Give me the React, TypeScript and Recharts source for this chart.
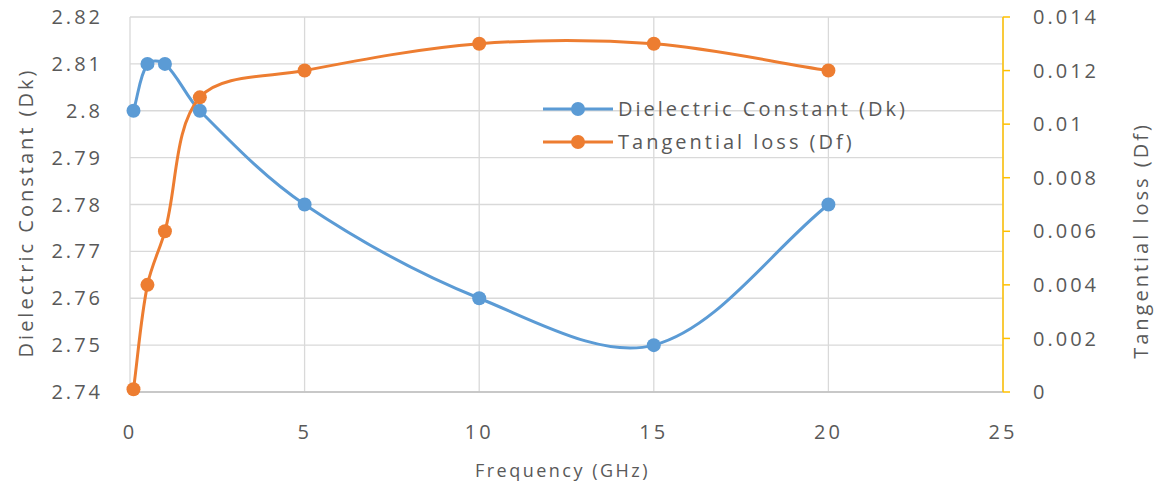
import { LineChart, Line, XAxis, YAxis, CartesianGrid, Legend } from 'recharts'

const frequency = [0.1, 0.5, 1, 2, 5, 10, 15, 20]
const dielectricConstant = [2.8, 2.81, 2.81, 2.8, 2.78, 2.76, 2.75, 2.78]
const tangentialLoss = [0.0001, 0.004, 0.006, 0.011, 0.012, 0.013, 0.013, 0.012]

const freqTicks = [0, 5, 10, 15, 20, 25]
const dkTicks = [2.74, 2.75, 2.76, 2.77, 2.78, 2.79, 2.8, 2.81, 2.82]
const dfTicks = [0, 0.002, 0.004, 0.006, 0.008, 0.01, 0.012, 0.014]

const DK_NAME = 'Dielectric Constant (Dk)'
const DF_NAME = 'Tangential loss (Df)'
const BLUE = '#5b9bd5'
const ORANGE = '#ed7d31'
const TEXT = '#595959'
const FONT = '"Open Sans", sans-serif'

const data = frequency.map((f, i) => ({ freq: f, dk: dielectricConstant[i], df: tangentialLoss[i] }))

// smoothed line like excel: catmull-rom tangents, scaled by neighbouring segment lengths
function excelCurve(context: any) {
  let pts: [number, number][] = []
  const dist = (a: [number, number], b: [number, number]) => Math.hypot(b[0] - a[0], b[1] - a[1])
  return {
    areaStart() {},
    areaEnd() {},
    lineStart() {
      pts = []
    },
    lineEnd() {
      if (!pts.length) return
      context.moveTo(pts[0][0], pts[0][1])
      for (let i = 0; i < pts.length - 1; i++) {
        const p0 = pts[i - 1] || pts[i]
        const p1 = pts[i]
        const p2 = pts[i + 1]
        const p3 = pts[i + 2] || p2
        const d01 = dist(p0, p1)
        const d12 = dist(p1, p2)
        const d23 = dist(p2, p3)
        const k1 = d01 + d12 > 0 ? d12 / (d01 + d12) / 3 : 0
        const k2 = d12 + d23 > 0 ? d12 / (d12 + d23) / 3 : 0
        context.bezierCurveTo(
          p1[0] + (p2[0] - p0[0]) * k1,
          p1[1] + (p2[1] - p0[1]) * k1,
          p2[0] - (p3[0] - p1[0]) * k2,
          p2[1] - (p3[1] - p1[1]) * k2,
          p2[0],
          p2[1],
        )
      }
    },
    point(x: number, y: number) {
      pts.push([x, y])
    },
  }
}

const tickStyle = { fill: TEXT, fontSize: 20, fontFamily: FONT, letterSpacing: 3 }

function AxisTitle({ x, y, text }: { x: number; y: number; text: string }) {
  return (
    <text
      x={x}
      y={y}
      transform={`rotate(-90 ${x} ${y})`}
      textAnchor="middle"
      dominantBaseline="central"
      fill={TEXT}
      fontSize={20}
      fontFamily={FONT}
      letterSpacing={3}
    >
      {text}
    </text>
  )
}

function LegendBox() {
  const items = [
    { name: DK_NAME, color: BLUE },
    { name: DF_NAME, color: ORANGE },
  ]
  return (
    <div style={{ fontFamily: FONT, fontSize: 20, letterSpacing: 3, color: TEXT }}>
      {items.map((it) => (
        <div key={it.name} style={{ display: 'flex', alignItems: 'center', height: 33, whiteSpace: 'nowrap' }}>
          <svg width={72} height={20}>
            <line x1={0} y1={10} x2={70} y2={10} stroke={it.color} strokeWidth={3} />
            <circle cx={35} cy={10} r={7} fill={it.color} />
          </svg>
          <span style={{ marginLeft: 3 }}>{it.name}</span>
        </div>
      ))}
    </div>
  )
}

export default function App() {
  return (
    <div style={{ position: 'absolute', left: 0, top: 0, background: '#fff' }}>
      <LineChart width={1159} height={484} data={data} margin={{ top: 17, right: 0, bottom: 0, left: 0 }}>
        <CartesianGrid yAxisId="dk" stroke="#d9d9d9" strokeWidth={1.3} />
        <XAxis
          dataKey="freq"
          type="number"
          domain={[0, 25]}
          ticks={freqTicks}
          height={92}
          stroke="#bfbfbf"
          strokeWidth={1.5}
          tickLine={false}
          tickSize={0}
          tickMargin={33}
          tick={tickStyle}
          label={{
            content: (p: any) => (
              <text
                x={p.viewBox.x + p.viewBox.width / 2 - 4}
                y={470}
                textAnchor="middle"
                dominantBaseline="central"
                fill={TEXT}
                fontSize={18}
                fontFamily={FONT}
                letterSpacing={2.5}
              >
                Frequency (GHz)
              </text>
            ),
          }}
        />
        <YAxis
          yAxisId="dk"
          width={130}
          domain={[2.74, 2.82]}
          ticks={dkTicks}
          axisLine={false}
          tickLine={false}
          tickSize={0}
          tickMargin={27}
          tick={tickStyle}
          tickFormatter={(v) => String(v)}
          label={{
            content: (p: any) => <AxisTitle x={p.viewBox.x + 25} y={p.viewBox.y + p.viewBox.height / 2 + 8} text={DK_NAME} />,
          }}
        />
        <YAxis
          yAxisId="df"
          orientation="right"
          width={156}
          domain={[0, 0.014]}
          ticks={dfTicks}
          stroke="#ffc000"
          strokeWidth={1.5}
          tickSize={7}
          tickMargin={23}
          tick={tickStyle}
          tickFormatter={(v) => String(v)}
          label={{
            content: (p: any) => <AxisTitle x={p.viewBox.x + 137} y={p.viewBox.y + p.viewBox.height / 2 + 36} text={DF_NAME} />,
          }}
        />
        <Legend
          layout="vertical"
          align="center"
          verticalAlign="middle"
          content={() => <LegendBox />}
          wrapperStyle={{ position: 'absolute', left: 543, top: 92, width: 'auto', height: 'auto' }}
        />
        <Line
          yAxisId="dk"
          dataKey="dk"
          name={DK_NAME}
          type={excelCurve as any}
          stroke={BLUE}
          strokeWidth={3}
          dot={{ r: 7, fill: BLUE, stroke: BLUE, strokeWidth: 0 }}
          activeDot={false}
          isAnimationActive={false}
        />
        <Line
          yAxisId="df"
          dataKey="df"
          name={DF_NAME}
          type={excelCurve as any}
          stroke={ORANGE}
          strokeWidth={3}
          dot={{ r: 7, fill: ORANGE, stroke: ORANGE, strokeWidth: 0 }}
          activeDot={false}
          isAnimationActive={false}
        />
      </LineChart>
    </div>
  )
}
